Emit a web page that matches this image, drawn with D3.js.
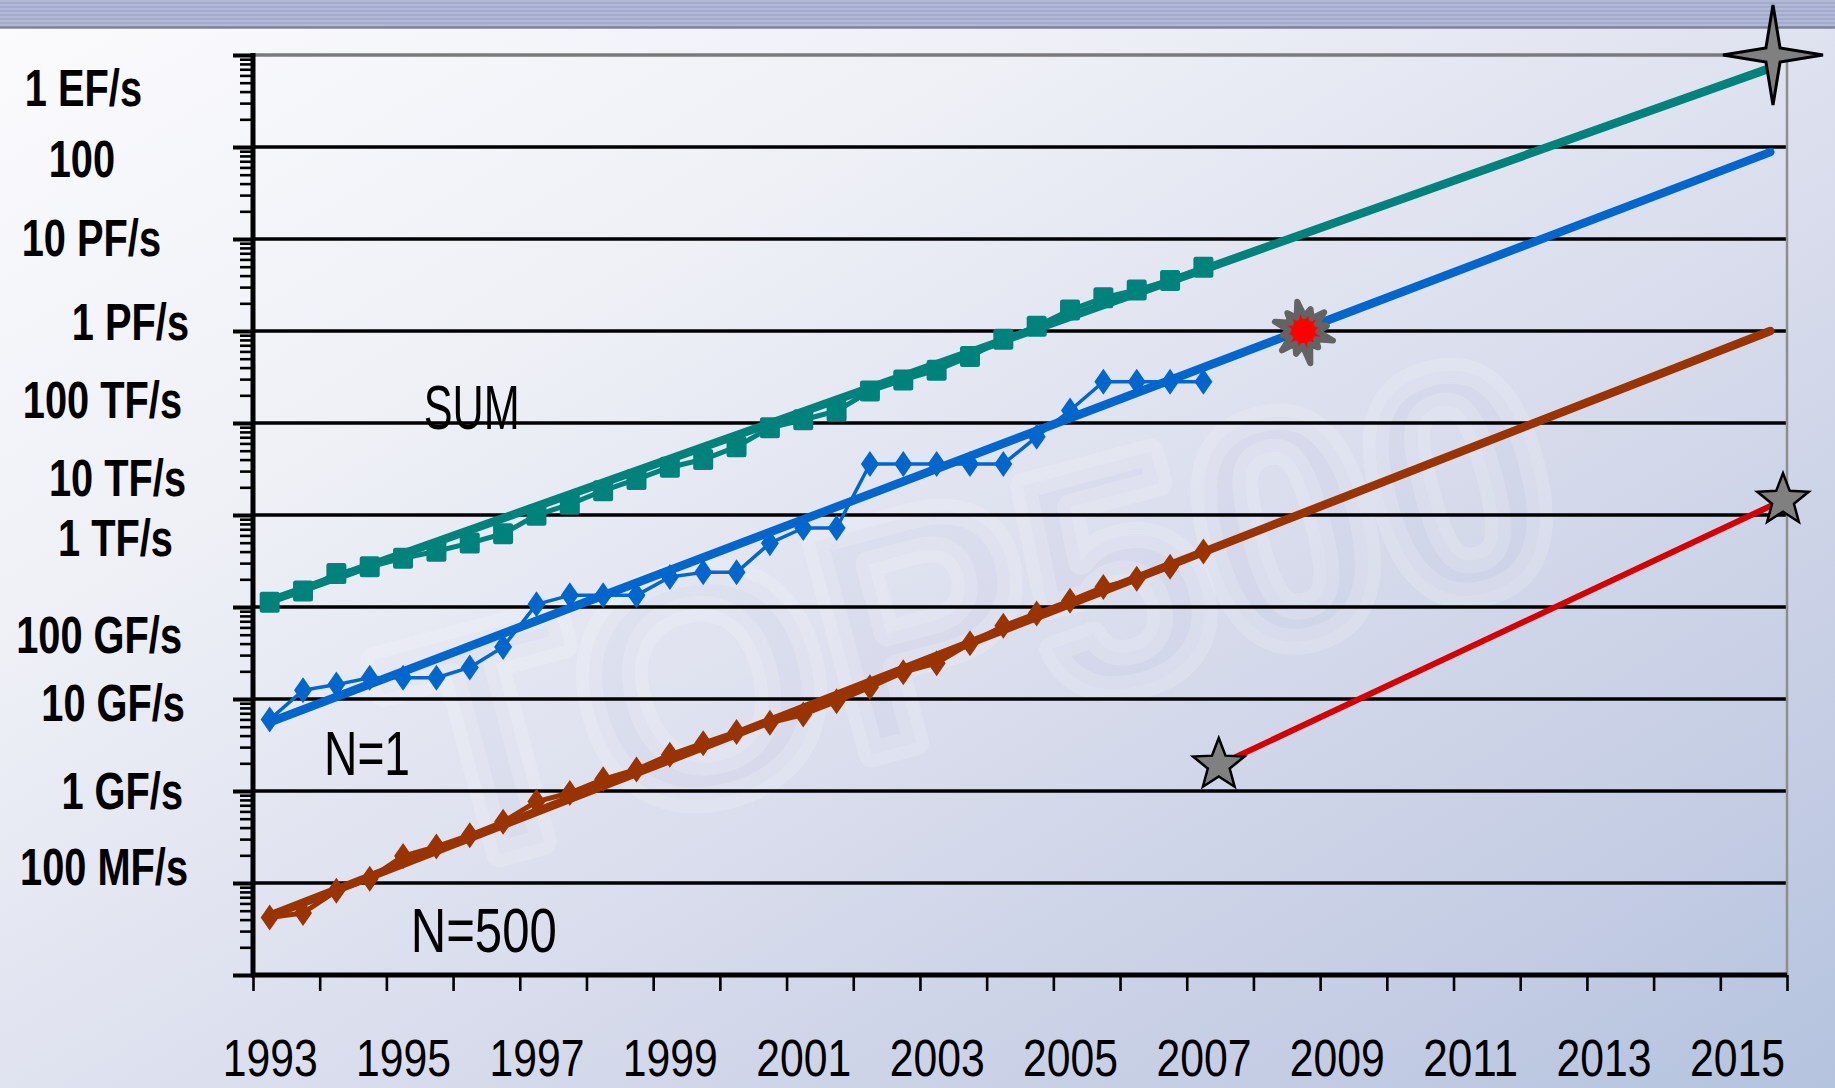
<!DOCTYPE html>
<html>
<head>
<meta charset="utf-8">
<script src="https://cdn.jsdelivr.net/npm/d3@7"></script>
<style>
  html, body { margin: 0; padding: 0; overflow: hidden; background: #fff; }
  svg { display: block; }
  text { font-family: "Liberation Sans", Arial, sans-serif; }
</style>
</head>
<body>
<svg id="chart" width="1835" height="1088"></svg>
<script>
// ---- TOP500 lists (June = .0, November = .5) ----
const listDates = [1993, 1993.5, 1994, 1994.5, 1995, 1995.5, 1996, 1996.5, 1997, 1997.5,
                   1998, 1998.5, 1999, 1999.5, 2000, 2000.5, 2001, 2001.5, 2002, 2002.5,
                   2003, 2003.5, 2004, 2004.5, 2005, 2005.5, 2006, 2006.5, 2007];

// Aggregate performance of all 500 systems, TFlop/s
const sumTFlops = [1.128, 1.493, 2.318, 2.732, 3.392, 4.036, 4.949, 6.254, 9.968, 13.07,
                   18.36, 24.35, 33.09, 40.05, 55.10, 88.61, 108.6, 134.9, 222.1, 293.6,
                   375.4, 528.6, 812.8, 1127, 1690, 2300, 2791, 3540, 4920];

// Number one system, GFlop/s
const n1GFlops = [59.7, 124.5, 143.4, 170.4, 170.4, 170.4, 220.4, 368.2, 1068, 1338,
                  1338, 1338, 2121, 2379, 2379, 4938, 7226, 7226, 35860, 35860,
                  35860, 35860, 35860, 70720, 136800, 280600, 280600, 280600, 280600];

// Entry level (system number 500), GFlop/s
const n500GFlops = [0.422, 0.472, 0.822, 1.114, 1.961, 2.489, 3.306, 4.619, 7.67, 9.51,
                    13.39, 17.12, 24.73, 33.08, 43.82, 55.10, 67.78, 94.3, 134.3, 195.8,
                    245.1, 403.4, 624, 850.6, 1166, 1646, 2026, 2737, 4005];

// Fitted trends (Flop/s) at the first list and the last projected list
const trendDates = [1993, 2015.5];
const sumTrend   = [1.16e12, 7.2e17];
const n1Trend    = [5.6e10, 8.8e16];
const n500Trend  = [4.4e8, 1.0e15];

// Laptop line (Flop/s)
const laptopDates = [2007.23, 2015.69];
const laptopFlops = [1.92e10, 1.45e13];

// Highlighted points: [date, Flop/s]
const exaflopTarget = [2015.54, 1e18];
const petaflopMark  = [2008.5, 1e15];

// Axis labels
const perfDecades = [1e18, 1e17, 1e16, 1e15, 1e14, 1e13, 1e12, 1e11, 1e10, 1e9, 1e8];
const perfLabels  = ["1 EF/s", "100", "10 PF/s", "1 PF/s", "100 TF/s", "10 TF/s",
                     "1 TF/s", "100 GF/s", "10 GF/s", "1 GF/s", "100 MF/s"];
const yearLabels  = [1993, 1995, 1997, 1999, 2001, 2003, 2005, 2007, 2009, 2011, 2013, 2015];

// Series name labels: [text, date, Flop/s at baseline]
const seriesNames = [["SUM", 1996.03, 8.6e13], ["N=1", 1994.46, 1.49e10], ["N=500", 1996.21, 1.78e8]];

// ---- layout ----
const W = 1835, H = 1088;
const M = { left: 253, right: 1787, top: 55, bottom: 975 };
const C = { sum: "#00827c", n1: "#0066cc", n500: "#993300", laptop: "#d40000" };

const svg = d3.select("#chart");
const x = d3.scaleLinear().domain([1992.75, 2015.75]).range([M.left, M.right]);
const y = d3.scaleLog().domain([1e8, 1e18]).range([M.bottom, M.top]);

// ---- background ----
const defs = svg.append("defs");
const bg = defs.append("linearGradient").attr("id", "bg")
  .attr("x1", 0).attr("y1", 0).attr("x2", 1).attr("y2", 1);
[[0, "#fbfbfd"], [0.3, "#eef0f6"], [0.6, "#d8dcec"], [0.85, "#c3cce3"], [1, "#b4c3de"]]
  .forEach(([o, c]) => bg.append("stop").attr("offset", o).attr("stop-color", c));
svg.append("rect").attr("width", W).attr("height", H).attr("fill", "url(#bg)");

// title band
svg.append("rect").attr("width", W).attr("height", 27).attr("fill", "#a2abcd");
svg.append("g").selectAll("line").data(d3.range(1, 26, 4)).join("line")
  .attr("x1", 0).attr("x2", W).attr("y1", d => d).attr("y2", d => d)
  .attr("stroke", "#b6bed9").attr("stroke-width", 1.5);
svg.append("line").attr("x1", 0).attr("x2", W).attr("y1", 27.5).attr("y2", 27.5)
  .attr("stroke", "#7e8598").attr("stroke-width", 2.5);

// logo watermark
svg.append("text").text("TOP500")
  .attr("transform", "translate(1000,720) rotate(-15)")
  .attr("text-anchor", "middle")
  .attr("font-size", 320).attr("font-weight", "bold")
  .attr("fill", "rgba(150,160,200,0.06)")
  .attr("stroke", "rgba(255,255,255,0.16)").attr("stroke-width", 26)
  .attr("stroke-linejoin", "round");

// ---- grid ----
svg.append("g").selectAll("line").data(perfDecades.filter(d => d > 1e8 && d < 1e18)).join("line")
  .attr("x1", M.left).attr("x2", M.right)
  .attr("y1", d => y(d)).attr("y2", d => y(d))
  .attr("stroke", "#000").attr("stroke-width", 3.5);
svg.append("line").attr("x1", M.left).attr("x2", M.right)
  .attr("y1", y(1e18)).attr("y2", y(1e18))
  .attr("stroke", "#7a7a7a").attr("stroke-width", 3.5);
svg.append("line").attr("x1", M.right).attr("x2", M.right)
  .attr("y1", M.top).attr("y2", M.bottom)
  .attr("stroke", "#8e8e8e").attr("stroke-width", 2.5);

// ---- y axis: decade and minor log ticks ----
const minorTicks = perfDecades.filter(d => d < 1e18).flatMap(d => d3.range(2, 10).map(k => k * d));
const yMinor = svg.append("g").attr("transform", `translate(${M.left},0)`)
  .call(d3.axisLeft(y).tickValues(minorTicks).tickSize(13).tickFormat(""));
yMinor.selectAll("line").attr("stroke", "#000").attr("stroke-width", 2.6);
yMinor.select(".domain").remove();
const yMajor = svg.append("g").attr("transform", `translate(${M.left},0)`)
  .call(d3.axisLeft(y).tickValues(perfDecades).tickSize(20).tickFormat(""));
yMajor.selectAll("line").attr("stroke", "#000").attr("stroke-width", 4);
yMajor.select(".domain").remove();
svg.append("line").attr("x1", M.left).attr("x2", M.left)
  .attr("y1", M.top - 2).attr("y2", M.bottom + 2)
  .attr("stroke", "#000").attr("stroke-width", 5);

// ---- x axis ----
const xTicks = svg.append("g").attr("transform", `translate(0,${M.bottom})`)
  .call(d3.axisBottom(x).tickValues(d3.range(1992.75, 2016, 1)).tickSize(16).tickFormat(""));
xTicks.selectAll("line").attr("stroke", "#000").attr("stroke-width", 2.6);
xTicks.select(".domain").remove();
svg.append("line").attr("x1", M.left - 2).attr("x2", M.right)
  .attr("y1", M.bottom).attr("y2", M.bottom)
  .attr("stroke", "#000").attr("stroke-width", 5);

// ---- series ----
const line = d3.line().x(d => x(d[0])).y(d => y(d[1]));
const pairs = (dates, vals, unit) => dates.map((d, i) => [d, vals[i] * unit]);

const sumPts  = pairs(listDates, sumTFlops, 1e12);
const n1Pts   = pairs(listDates, n1GFlops, 1e9);
const n500Pts = pairs(listDates, n500GFlops, 1e9);

// fitted trends
[[sumTrend, C.sum], [n1Trend, C.n1], [n500Trend, C.n500]].forEach(([vals, col]) => {
  svg.append("path").datum(pairs(trendDates, vals, 1))
    .attr("d", line).attr("fill", "none")
    .attr("stroke", col).attr("stroke-width", 8.5).attr("stroke-linecap", "round");
});

// measured lists
svg.append("path").datum(n500Pts).attr("d", line).attr("fill", "none")
  .attr("stroke", C.n500).attr("stroke-width", 5).attr("stroke-linejoin", "round");
svg.append("path").datum(n1Pts).attr("d", line).attr("fill", "none")
  .attr("stroke", C.n1).attr("stroke-width", 3.5).attr("stroke-linejoin", "round");
svg.append("path").datum(sumPts).attr("d", line).attr("fill", "none")
  .attr("stroke", C.sum).attr("stroke-width", 5).attr("stroke-linejoin", "round");

const diamond = "M0,-13L9,0L0,13L-9,0Z";
svg.append("g").selectAll("path").data(n500Pts).join("path")
  .attr("d", diamond).attr("fill", C.n500)
  .attr("transform", d => `translate(${x(d[0])},${y(d[1])})`);
svg.append("g").selectAll("path").data(n1Pts).join("path")
  .attr("d", diamond).attr("fill", C.n1)
  .attr("transform", d => `translate(${x(d[0])},${y(d[1])})`);
svg.append("g").selectAll("rect").data(sumPts).join("rect")
  .attr("x", d => x(d[0]) - 10).attr("y", d => y(d[1]) - 10.5)
  .attr("width", 20).attr("height", 21).attr("rx", 2.5)
  .attr("fill", C.sum);

// laptop line
const lapPts = pairs(laptopDates, laptopFlops, 1);
svg.append("path").datum(lapPts).attr("d", line).attr("fill", "none")
  .attr("stroke", C.laptop).attr("stroke-width", 6);

// star shapes
function starPath(n, R, r, radii) {
  const pts = [];
  for (let i = 0; i < 2 * n; i++) {
    const a = -Math.PI / 2 + i * Math.PI / n;
    const rad = i % 2 === 0 ? (radii ? radii[i / 2] : R) : r;
    pts.push([rad * Math.cos(a), rad * Math.sin(a)]);
  }
  return "M" + pts.map(p => p[0].toFixed(2) + "," + p[1].toFixed(2)).join("L") + "Z";
}
svg.append("g").selectAll("path").data(lapPts).join("path")
  .attr("d", starPath(5, 27, 11.5))
  .attr("transform", d => `translate(${x(d[0])},${y(d[1])})`)
  .attr("fill", "#808080").attr("stroke", "#000").attr("stroke-width", 2.5)
  .attr("stroke-linejoin", "miter");

svg.append("path")
  .attr("d", starPath(4, 50, 10))
  .attr("transform", `translate(${x(exaflopTarget[0])},${y(exaflopTarget[1])})`)
  .attr("fill", "#808080").attr("stroke", "#000").attr("stroke-width", 3);

const burstRadii = [30, 23, 28, 24, 31, 22, 33, 24, 29, 21, 30, 24];
svg.append("path")
  .attr("d", starPath(12, 30, 15, burstRadii))
  .attr("transform", `translate(${x(petaflopMark[0])},${y(petaflopMark[1])}) rotate(-12)`)
  .attr("fill", "#ff0000").attr("stroke", "#636363").attr("stroke-width", 6)
  .attr("stroke-linejoin", "round");

// ---- text ----
const labelScale = d3.scaleLog().domain([1e8, 1e18]).range([866, 87]);
const labelNudge = [[-43, 0], [-70, -7], [-24, -6], [4, 0], [-3, 1], [1, 1],
                    [-12, -17], [-3, 2], [0, -8], [-2, 2], [3, 0]];
const yLab = svg.append("g").attr("transform", "translate(185,0)")
  .call(d3.axisLeft(labelScale).tickValues(perfDecades)
    .tickFormat((d, i) => perfLabels[i]).tickSize(0).tickPadding(0));
yLab.select(".domain").remove();
yLab.selectAll("text")
  .attr("x", 0).attr("dy", "0.36em")
  .attr("transform", (d, i) => `translate(${labelNudge[i][0]},${labelNudge[i][1]}) scale(0.78,1)`)
  .attr("font-size", 51).attr("font-weight", "bold")
  .attr("font-family", '"Liberation Sans", Arial, sans-serif')
  .attr("fill", "#000").attr("text-anchor", "end");

const xLab = svg.append("g").attr("transform", "translate(0,1076)")
  .call(d3.axisBottom(x).tickValues(yearLabels).tickFormat(d3.format("d")).tickSize(0).tickPadding(0));
xLab.select(".domain").remove();
xLab.selectAll("text")
  .attr("y", 0).attr("dy", 0)
  .attr("font-size", 52)
  .attr("font-family", '"Liberation Sans", Arial, sans-serif')
  .attr("fill", "#000")
  .attr("textLength", 95).attr("lengthAdjust", "spacingAndGlyphs");

const nameWidth = { "SUM": 96, "N=1": 86, "N=500": 146 };
svg.append("g").selectAll("text").data(seriesNames).join("text")
  .text(d => d[0])
  .attr("x", d => x(d[1]) - nameWidth[d[0]] / 2).attr("y", d => y(d[2]))
  .attr("font-size", 63).attr("fill", "#000")
  .attr("textLength", d => nameWidth[d[0]]).attr("lengthAdjust", "spacingAndGlyphs");
</script>
</body>
</html>
